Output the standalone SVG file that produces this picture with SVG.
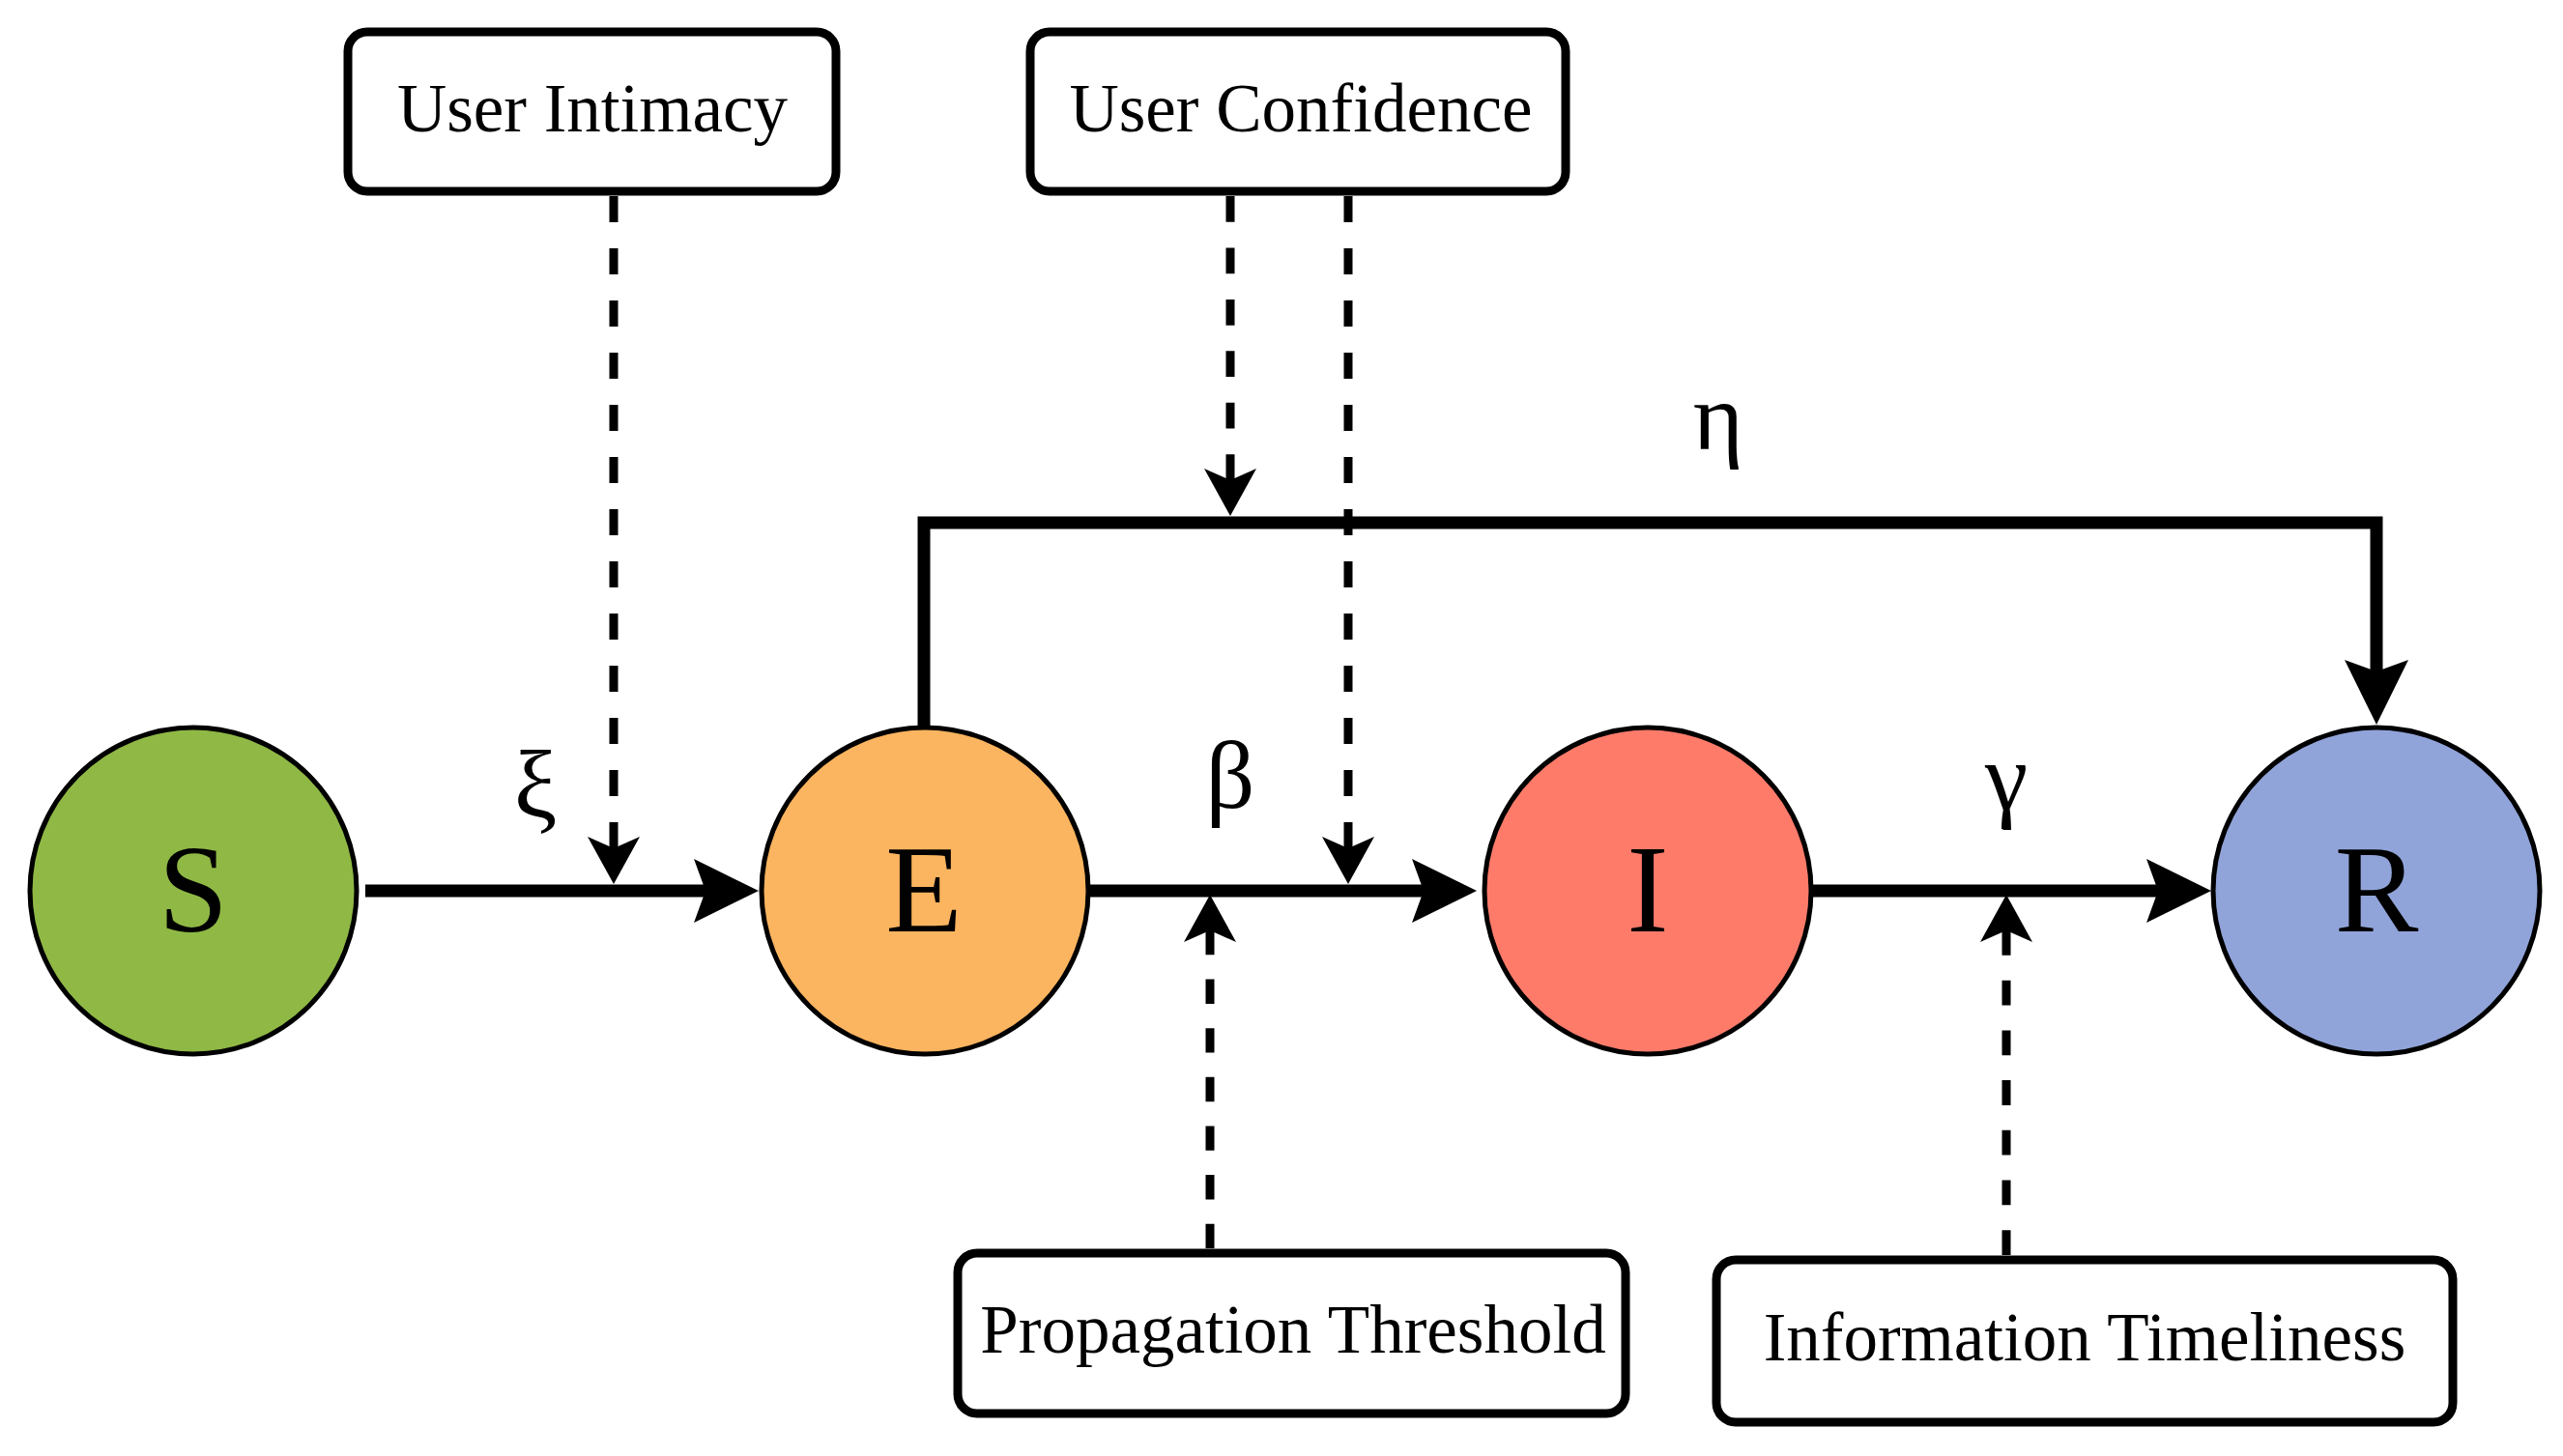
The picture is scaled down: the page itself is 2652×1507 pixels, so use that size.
<svg xmlns="http://www.w3.org/2000/svg" width="2652" height="1507" viewBox="0 0 2652 1507">
<style>
.node circle{stroke:#000;stroke-width:5}
.box rect{fill:#fff;stroke:#000;stroke-width:9}
.lbl{font-family:"Liberation Serif","Times New Roman",serif;font-size:71px;fill:#000;text-anchor:middle}
.big{font-family:"Liberation Serif","Times New Roman",serif;font-size:130px;fill:#000;text-anchor:middle}
.greek{font-family:"Liberation Serif","Times New Roman",serif;font-size:100px;fill:#000;text-anchor:middle}
.solid{fill:none;stroke:#000;stroke-width:13;marker-end:url(#ah)}
.dash{fill:none;stroke:#000;stroke-width:9;stroke-dasharray:1 1;marker-start:url(#dh)}
</style>
<defs>
<marker id="ah" viewBox="0 0 67 66" refX="12" refY="33" markerWidth="67" markerHeight="66" markerUnits="userSpaceOnUse" orient="auto">
<path d="M0,0 L67,33 L0,66 L12,33 Z" fill="#000"/>
</marker>
<marker id="dh" viewBox="0 0 49 54" refX="12" refY="27" markerWidth="49" markerHeight="54" markerUnits="userSpaceOnUse" orient="auto-start-reverse">
<path d="M0,0 L49,27 L0,54 L12,27 Z" fill="#000"/>
</marker>
</defs>
<rect width="2652" height="1507" fill="#fff"/>
<g id="connectors">
<path class="solid" d="M378,922 H730"/>
<path class="solid" d="M1126,922 H1473"/>
<path class="solid" d="M1874,922 H2233"/>
<path class="solid" d="M956,752 V541 H2459 V695" stroke-linejoin="miter"/>
<path class="dash" d="M635,878 V203" pathLength="25"/>
<path class="dash" d="M1273,497 V203" pathLength="11"/>
<path class="dash" d="M1395,878 V203" pathLength="25"/>
<path class="dash" d="M1252,963 V1292" pathLength="13"/>
<path class="dash" d="M2076,963 V1299" pathLength="13"/>
<text class="greek" x="554" y="845">ξ</text>
<text class="greek" x="1273" y="836">β</text>
<text class="greek" x="2076" y="838">γ</text>
<text class="greek" x="1778" y="465">η</text>
</g>
<g id="node-S" class="node"><circle cx="200" cy="922" r="169" fill="#8FB845"/><text class="big" x="200" y="964">S</text></g>
<g id="node-E" class="node"><circle cx="957" cy="922" r="169" fill="#FBB45F"/><text class="big" x="956" y="964">E</text></g>
<g id="node-I" class="node"><circle cx="1705" cy="922" r="169" fill="#FE7B6A"/><text class="big" x="1705" y="964">I</text></g>
<g id="node-R" class="node"><circle cx="2459" cy="922" r="169" fill="#91A4DA"/><text class="big" x="2459" y="964">R</text></g>
<g id="box-intimacy" class="box"><rect x="360" y="33" width="505" height="165" rx="20"/><text class="lbl" x="613" y="136">User Intimacy</text></g>
<g id="box-confidence" class="box"><rect x="1066" y="33" width="554" height="165" rx="20"/><text class="lbl" x="1346" y="136">User Confidence</text></g>
<g id="box-threshold" class="box"><rect x="991" y="1297" width="691" height="166" rx="20"/><text class="lbl" x="1338" y="1400">Propagation Threshold</text></g>
<g id="box-timeliness" class="box"><rect x="1776" y="1304" width="762" height="168" rx="20"/><text class="lbl" x="2157" y="1408">Information Timeliness</text></g>
</svg>
